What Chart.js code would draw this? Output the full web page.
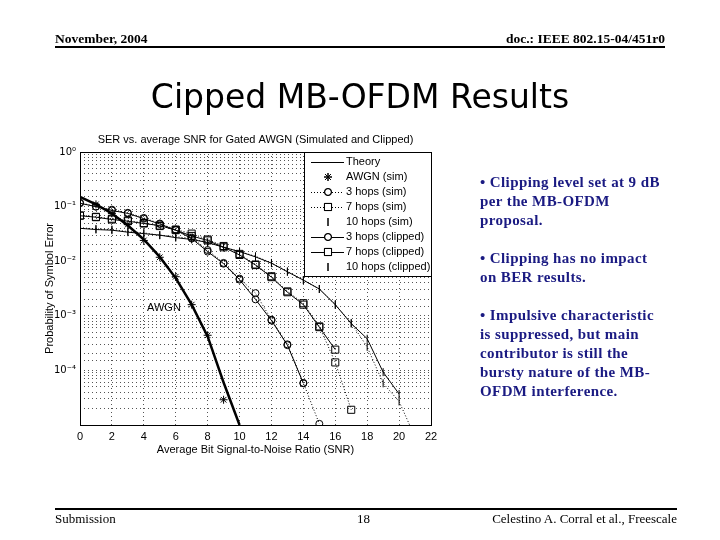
<!DOCTYPE html>
<html>
<head>
<meta charset="utf-8">
<script src="https://cdn.jsdelivr.net/npm/chart.js@4"></script>
<style>
  html, body { margin: 0; padding: 0; background: #fff; }
  body { width: 720px; height: 540px; position: relative; overflow: hidden; font-family: "Liberation Serif", serif; }
  #slide { position: absolute; left: 0; top: 0; }
  .hdr { position: absolute; top: 31px; font-size: 13.5px; font-weight: bold; }
  .rule { position: absolute; height: 2px; background: #000; }
  .title { position: absolute; left: 0; width: 720px; top: 77px; text-align: center; font-family: "DejaVu Sans", sans-serif; font-size: 33px; }
  .bullets { position: absolute; left: 480px; top: 173px; white-space: nowrap; color: #1a1a82; font-weight: bold; font-size: 15px; letter-spacing: 0.4px; line-height: 19px; }
  .bullets p { margin: 0 0 19px 0; }
  .ftr { position: absolute; top: 511px; font-size: 13px; }
</style>
</head>
<body>
<canvas id="slide" width="720" height="540"></canvas>
<div class="hdr" style="left:55px;">November, 2004</div>
<div class="hdr" style="right:55px;">doc.: IEEE 802.15-04/451r0</div>
<div class="rule" style="left:55px; width:610px; top:46px;"></div>
<div class="title">Cipped MB-OFDM Results</div>
<div class="bullets">
  <p>• Clipping level set at 9 dB<br>per the MB-OFDM<br>proposal.</p>
  <p>• Clipping has no impact<br>on BER results.</p>
  <p>• Impulsive characteristic<br>is suppressed, but main<br>contributor is still the<br>bursty nature of the MB-<br>OFDM interference.</p>
</div>
<div class="rule" style="left:55px; width:622px; top:508px;"></div>
<div class="ftr" style="left:55px;">Submission</div>
<div class="ftr" style="left:357px;">18</div>
<div class="ftr" style="right:43px;">Celestino A. Corral et al., Freescale</div>

<script>
// values (x = Eb/N0 in dB, y = symbol error probability)
const snrTheory = [0, 1, 2, 3, 4, 5, 6, 7, 8, 9, 10];
const serTheory = [0.15, 0.11, 0.075, 0.045, 0.025, 0.012, 0.0049, 0.0016, 0.00042, 0.00006, 0.00001];

const snrAwgn = [1, 2, 3, 4, 5, 6, 7, 8, 9];
const serAwgn = [0.11, 0.075, 0.047, 0.024, 0.0118, 0.0052, 0.0016, 0.00044, 0.000029];

const snr3Sim = [0, 1, 2, 3, 4, 5, 6, 7, 8, 9, 10, 11, 12, 13, 14, 15];
const ser3Sim = [0.118, 0.1, 0.088, 0.077, 0.062, 0.049, 0.038, 0.027, 0.016, 0.0093, 0.0048, 0.0026, 0.00085, 0.0003, 0.000059, 0.0000105];
const snr3Clip = [0, 1, 2, 3, 4, 5, 6, 7, 8, 9, 10, 11, 12, 13, 14];
const ser3Clip = [0.115, 0.1, 0.085, 0.075, 0.06, 0.048, 0.037, 0.026, 0.015, 0.009, 0.0046, 0.002, 0.00082, 0.00029, 0.000058];

const snr7Sim = [0, 1, 2, 3, 4, 5, 6, 7, 8, 9, 10, 11, 12, 13, 14, 15, 16, 17];
const ser7Sim = [0.069, 0.065, 0.06, 0.056, 0.05, 0.044, 0.038, 0.032, 0.025, 0.019, 0.0136, 0.0087, 0.0053, 0.0028, 0.0017, 0.00064, 0.00014, 0.000019];
const snr7Clip = [0, 1, 2, 3, 4, 5, 6, 7, 8, 9, 10, 11, 12, 13, 14, 15, 16];
const ser7Clip = [0.068, 0.064, 0.058, 0.054, 0.049, 0.045, 0.037, 0.029, 0.024, 0.018, 0.013, 0.0085, 0.0051, 0.0027, 0.0016, 0.00062, 0.00024];

const snr10Sim = [0, 1, 2, 3, 4, 5, 6, 7, 8, 9, 10, 11, 12, 13, 14, 15, 16, 17, 18, 19, 20, 21];
const ser10Sim = [0.041, 0.039, 0.038, 0.035, 0.033, 0.03, 0.028, 0.026, 0.022, 0.018, 0.015, 0.0123, 0.0093, 0.0065, 0.0045, 0.0031, 0.0016, 0.00074, 0.00027, 0.000058, 0.000027, 0.000006];
const snr10Clip = [0, 1, 2, 3, 4, 5, 6, 7, 8, 9, 10, 11, 12, 13, 14, 15, 16, 17, 18, 19, 20];
const ser10Clip = [0.04, 0.038, 0.037, 0.034, 0.032, 0.03, 0.027, 0.025, 0.022, 0.018, 0.015, 0.012, 0.0092, 0.0064, 0.0045, 0.0031, 0.0016, 0.00072, 0.00038, 0.000093, 0.000037];

const seriesNames = ["Theory", "AWGN (sim)", "3 hops (sim)", "7 hops (sim)", "10 hops (sim)", "3 hops (clipped)", "7 hops (clipped)", "10 hops (clipped)"];
const legendShowsLine = [true, false, true, true, false, true, true, false];

const xTicks = [0, 2, 4, 6, 8, 10, 12, 14, 16, 18, 20, 22];
const yTickLabels = ["10⁰", "10⁻¹", "10⁻²", "10⁻³", "10⁻⁴", ""];

const chartTitle = "SER vs. average SNR for Gated AWGN (Simulated and Clipped)";
const xTitle = "Average Bit Signal-to-Noise Ratio (SNR)";
const yTitle = "Probability of Symbol Error";
const curveNote = { text: "AWGN", x: 4.2, y: 0.0014 };

const pts = (xs, ys) => xs.map((x, i) => ({ x: x, y: ys[i] }));

const dotted = [1, 2];
function series(name, xs, ys, opts) {
    return Object.assign({
        label: name,
        data: pts(xs, ys),
        borderColor: "#000",
        backgroundColor: "rgba(0,0,0,0)",
        pointBorderColor: "#000",
        pointBackgroundColor: "rgba(0,0,0,0)",
        borderWidth: 1,
        pointBorderWidth: 1,
        tension: 0
    }, opts);
}

const datasets = [
    series(seriesNames[0], snrTheory, serTheory, { borderWidth: 2.5, pointRadius: 0 }),
    series(seriesNames[1], snrAwgn, serAwgn, { showLine: false, pointStyle: "star", pointRadius: 4 }),
    series(seriesNames[2], snr3Sim, ser3Sim, { borderDash: dotted, pointStyle: "circle", pointRadius: 3.5 }),
    series(seriesNames[3], snr7Sim, ser7Sim, { borderDash: dotted, pointStyle: "rect", pointRadius: 5 }),
    series(seriesNames[4], snr10Sim, ser10Sim, { borderDash: dotted, pointStyle: "line", pointRotation: 90, pointRadius: 4 }),
    series(seriesNames[5], snr3Clip, ser3Clip, { pointStyle: "circle", pointRadius: 3.5 }),
    series(seriesNames[6], snr7Clip, ser7Clip, { pointStyle: "rect", pointRadius: 5 }),
    series(seriesNames[7], snr10Clip, ser10Clip, { pointStyle: "line", pointRotation: 90, pointRadius: 4 })
];

// box, title, legend and curve note drawn on top of the plot
const plotExtras = {
    id: "plotExtras",
    afterDatasetsDraw(chart) {
        const ctx = chart.ctx;
        const a = chart.chartArea;
        ctx.save();
        ctx.strokeStyle = "#000";
        ctx.lineWidth = 1;
        ctx.setLineDash([]);
        ctx.strokeRect(Math.round(a.left) + 0.5, Math.round(a.top) + 0.5, Math.round(a.right - a.left), Math.round(a.bottom - a.top));

        ctx.fillStyle = "#000";
        ctx.font = "11px 'Liberation Sans', Arial, sans-serif";
        ctx.textAlign = "center";
        ctx.textBaseline = "middle";
        ctx.fillText(chartTitle, (a.left + a.right) / 2, a.top - 12);

        ctx.textAlign = "left";
        ctx.fillText(curveNote.text, chart.scales.x.getPixelForValue(curveNote.x), chart.scales.y.getPixelForValue(curveNote.y));

        // legend in the upper right corner
        const lx = 304, ly = Math.round(a.top), lw = Math.round(a.right) - 304, rowH = 15;
        const lh = rowH * datasets.length + 4;
        ctx.fillStyle = "#fff";
        ctx.fillRect(lx, ly, lw, lh);
        ctx.strokeRect(lx + 0.5, ly + 0.5, lw, lh);
        chart.data.datasets.forEach((ds, i) => {
            const y = ly + 10 + i * rowH;
            if (legendShowsLine[i]) {
                ctx.lineWidth = 1;
                ctx.setLineDash(ds.borderDash || []);
                ctx.beginPath();
                ctx.moveTo(lx + 7, y + 0.5);
                ctx.lineTo(lx + 40, y + 0.5);
                ctx.stroke();
                ctx.setLineDash([]);
            }
            if (ds.pointRadius) {
                ctx.fillStyle = "#fff";
                ctx.strokeStyle = "#000";
                Chart.helpers.drawPoint(ctx, {
                    pointStyle: ds.pointStyle,
                    rotation: ds.pointRotation || 0,
                    radius: ds.pointRadius,
                    borderWidth: 1
                }, lx + 24, y);
                ctx.stroke();
            }
            ctx.fillStyle = "#000";
            ctx.fillText(ds.label, lx + 42, y);
        });
        ctx.restore();
    }
};

new Chart(document.getElementById("slide").getContext("2d"), {
    type: "line",
    data: { datasets: datasets },
    options: {
        responsive: false,
        animation: false,
        devicePixelRatio: 1,
        layout: { padding: { left: 40, right: 289, top: 152, bottom: 75 } },
        scales: {
            x: {
                type: "linear",
                min: 0,
                max: 22,
                afterBuildTicks: (scale) => { scale.ticks = xTicks.map(v => ({ value: v })); },
                afterFit: (scale) => { scale.height = 40; },
                grid: { color: "#555", lineWidth: 1, drawTicks: false },
                border: { display: false, dash: [1, 3] },
                ticks: { color: "#000", padding: 5, font: { family: "'Liberation Sans', Arial, sans-serif", size: 11 } },
                title: { display: true, text: xTitle, color: "#000", padding: { top: 4, bottom: 8 }, font: { family: "'Liberation Sans', Arial, sans-serif", size: 11 } }
            },
            y: {
                type: "logarithmic",
                min: 0.00001,
                max: 1,
                afterFit: (scale) => { scale.width = 40; },
                grid: { color: "#555", lineWidth: 1, drawTicks: false },
                border: { display: false, dash: [1, 3] },
                ticks: {
                    color: "#000",
                    padding: 4,
                    autoSkip: false,
                    font: { family: "'DejaVu Sans', sans-serif", size: 10 },
                    callback: (v) => {
                        const e = Math.log10(v);
                        if (Math.abs(e - Math.round(e)) > 1e-9) return "";
                        return yTickLabels[-Math.round(e)] || "";
                    }
                },
                title: { display: true, text: yTitle, color: "#000", padding: 3, font: { family: "'Liberation Sans', Arial, sans-serif", size: 11 } }
            }
        },
        plugins: {
            legend: { display: false },
            tooltip: { enabled: false }
        }
    },
    plugins: [plotExtras]
});
</script>
</body>
</html>
